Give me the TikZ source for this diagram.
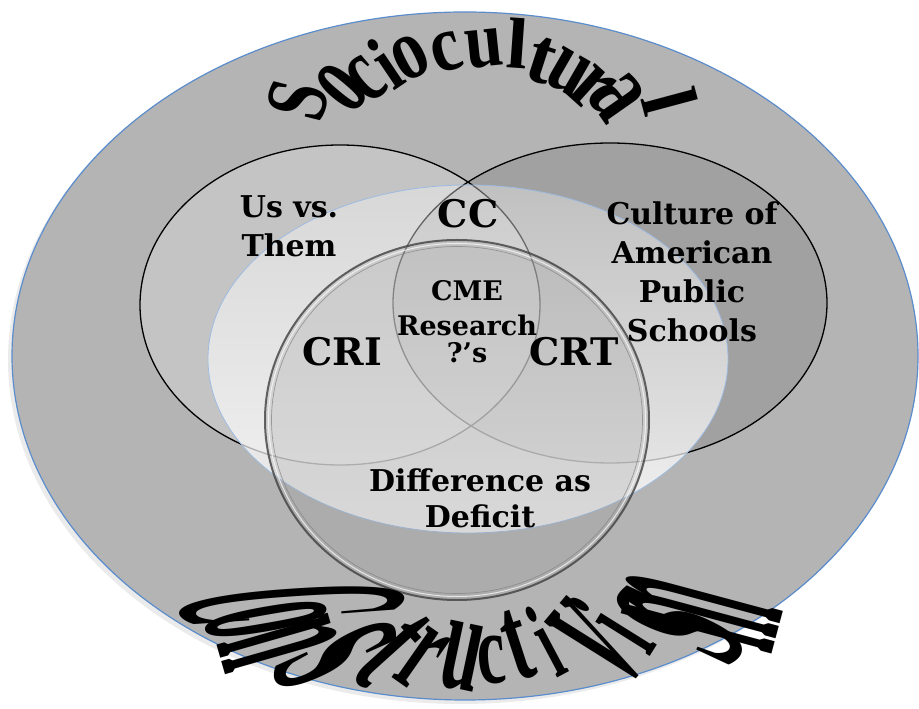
\documentclass[tikz,border=0pt]{standalone}
\usepackage{fontspec}
\setmainfont{DejaVu Serif}
\newfontfamily\warpfont{Liberation Serif}
\usetikzlibrary{fadings}

\definecolor{rim}{RGB}{91,141,205}
\definecolor{field}{RGB}{180,180,180}

\tikzset{
  vtext/.style={font=\bfseries\fontsize{30}{39}\selectfont, align=center, inner sep=0pt},
  vbig/.style={font=\bfseries\fontsize{38}{38}\selectfont, inner sep=0pt},
  warp/.style={font=\warpfont\bfseries\fontsize{40}{40}\selectfont, inner sep=0pt},
  venn/.style={draw=black, line width=1.3pt},
}

\begin{document}
\begin{tikzpicture}[x=1pt, y=1pt]
  \useasboundingbox (0,0) rectangle (919,709);

  % outer field with a soft shadow
  \fill[black, opacity=.08] (461,349) ellipse [x radius=453, y radius=344];
  \filldraw[fill=field, draw=rim, line width=1.2pt] (465,353) ellipse [x radius=453, y radius=344];

  % the two upper circles
  \filldraw[venn, fill=white, fill opacity=.22] (340,404) ellipse [x radius=200, y radius=160];
  \filldraw[venn, fill=black, fill opacity=.1] (610,406) ellipse [x radius=217, y radius=160];

  % light inner field, brighter towards the bottom
  \fill[white, fill opacity=.35] (468,350) ellipse [x radius=260, y radius=174];
  \fill[white, fill opacity=.7, path fading=north] (468,350) ellipse [x radius=260, y radius=174];
  \draw[rim!60!white, line width=.8pt] (468,350) ellipse [x radius=260, y radius=174];

  % lower circle, glassy rim
  \fill[black!41, fill opacity=.25] (457,289) ellipse [x radius=192, y radius=180];
  \draw[black!75, line width=2pt, opacity=.8] (457,289) ellipse [x radius=192, y radius=180];
  \draw[white, line width=1pt, opacity=.7] (457,289) ellipse [x radius=188.5, y radius=176.5];
  \draw[black!50, line width=.7pt, opacity=.7] (457,289) ellipse [x radius=185.5, y radius=173.5];

  % labels
  \node[vtext] (them) at (289,483) {Us vs.\\Them};
  \node[vbig] (cc) at (468,495) {CC};
  \node[vtext, font=\bfseries\fontsize{27}{33}\selectfont] (cme) at (467,387) {CME\\[2pt]Research\\[-6pt]?’s};
  \node[vbig] (cri) at (342,357) {CRI};
  \node[vbig] (crt) at (574,357) {CRT};
  \node[vtext] (schools) at (692,437) {Culture of\\American\\Public\\Schools};
  \node[vtext, font=\bfseries\fontsize{30}{36}\selectfont] (deficit) at (480,211) {Difference as\\Deficit};

  % arched title on top, letter by letter (x, y, turn, width and height stretch)
  \foreach \ch/\x/\y/\r/\sx/\sy [count=\i] in {
      S/298/609/76/1.6/2.2, o/342/621/50/1.6/2.8, c/366/630/40/1.6/2.4,
      i/385/645/34/1.6/2.0, o/410/651/27/1.7/2.2, c/447/657/17/1.7/2.0,
      u/484/660/6/1.7/2.0, l/518/666/-4/1.9/1.8, t/541/649/-18/1.9/2.0,
      u/569/636/-30/1.7/2.2, r/592/621/-42/1.8/2.3, a/617/612/-55/1.9/2.7,
      l/670/607/-75/1.9/2.0}
    \node[warp, rotate=\r] (soc\i) at (\x,\y) {\scalebox{\sx}[\sy]{\ch}};

  % arched title below
  \foreach \ch/\x/\y/\r/\sx/\sy [count=\i] in {
      C/292/105/-86/1.2/8.4, o/266/89/-80/1.45/6.4, n/278/66/-74/1.5/6.3,
      s/335/54/-66/2.1/6.8, t/392/59/-48/1.8/4.2, r/422/51/-35/1.7/3.45,
      u/462/52/-12/1.75/3.6, c/492/49/5/1.6/2.5, t/517/64/18/1.8/3.1,
      i/545/68/28/1.4/2.75, v/597/66/50/1.75/5.7, i/612/84/58/1.4/3.5,
      s/680/84/65/2.4/7.1, m/700/97/75/1.4/8.5}
    \node[warp, rotate=\r] (con\i) at (\x,\y) {\scalebox{\sx}[\sy]{\ch}};
\end{tikzpicture}
\end{document}
